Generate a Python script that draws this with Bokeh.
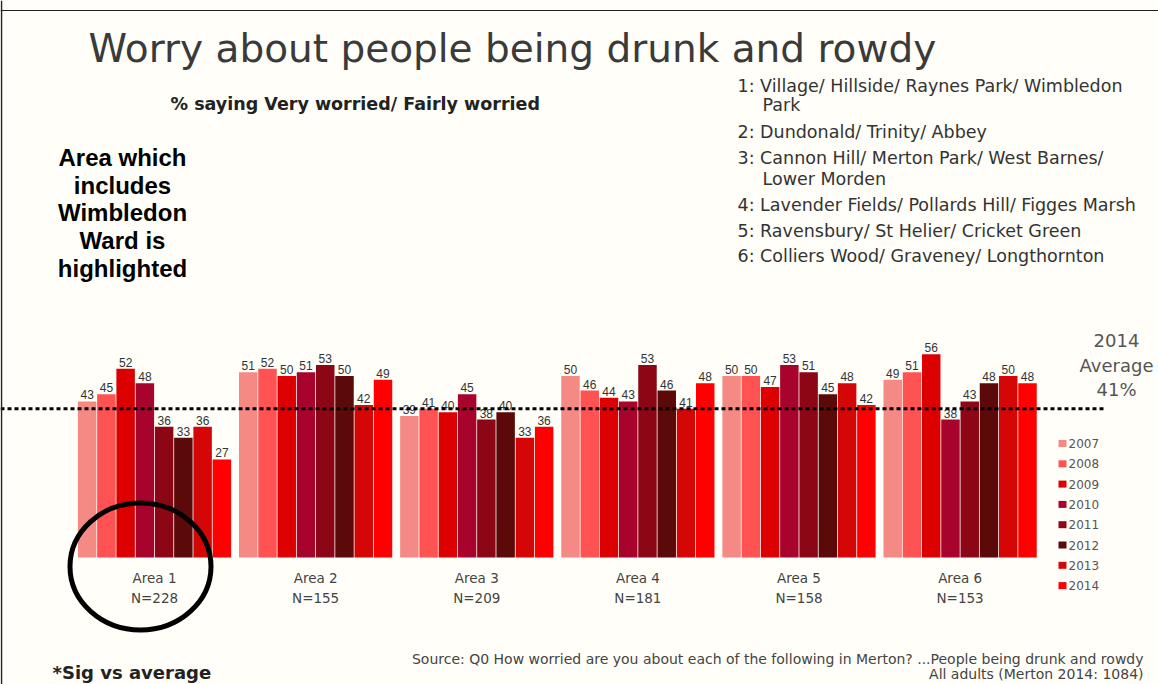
from bokeh.plotting import figure
from bokeh.models import Range1d, Span, ColumnDataSource
from bokeh.core.properties import value
from bokeh.embed import file_html
from bokeh.resources import INLINE

# ---------------- data ----------------
areas = ["Area 1", "Area 2", "Area 3", "Area 4", "Area 5", "Area 6"]
sample_sizes = [228, 155, 209, 181, 158, 153]
years = ["2007", "2008", "2009", "2010", "2011", "2012", "2013", "2014"]
area1 = [43, 45, 52, 48, 36, 33, 36, 27]
area2 = [51, 52, 50, 51, 53, 50, 42, 49]
area3 = [39, 41, 40, 45, 38, 40, 33, 36]
area4 = [50, 46, 44, 43, 53, 46, 41, 48]
area5 = [50, 50, 47, 53, 51, 45, 48, 42]
area6 = [49, 51, 56, 38, 43, 48, 50, 48]
area_values = [area1, area2, area3, area4, area5, area6]
average_2014 = 41
year_colors = ["#f58a84", "#ff5252", "#dc0000", "#a8032c", "#8c0616",
               "#5c0909", "#d40606", "#ff0000"]
area_descriptions = [
    ("1: Village/ Hillside/ Raynes Park/ Wimbledon", 0),
    ("Park", 1),
    ("2: Dundonald/ Trinity/ Abbey", 0),
    ("3: Cannon Hill/ Merton Park/ West Barnes/", 0),
    ("Lower Morden", 1),
    ("4: Lavender Fields/ Pollards Hill/ Figges Marsh", 0),
    ("5: Ravensbury/ St Helier/ Cricket Green", 0),
    ("6: Colliers Wood/ Graveney/ Longthornton", 0),
]
highlight_note = ["Area which", "includes", "Wimbledon", "Ward is", "highlighted"]

# ---------------- layout ----------------
W, H = 1158, 684
BAR_PX = 19.25          # pixels per bar (x data unit)
GROUP_GAP = 0.37        # gap between area groups, in bar widths
Y_PX = 3.63             # pixels per percentage point
ORIGIN_X = 77           # page x of first bar's left edge
BASE_Y = 557            # page y of the bars' baseline
x0 = -ORIGIN_X / BAR_PX
x1 = x0 + W / BAR_PX
y1 = BASE_Y / Y_PX
y0 = y1 - H / Y_PX


def px(x):
    return x0 + x / BAR_PX


def py(y):
    return (BASE_Y - y) / Y_PX


BG = "#fffef8"
p = figure(width=W, height=H, output_backend="svg", toolbar_location=None,
           x_range=Range1d(x0, x1), y_range=Range1d(y0, y1),
           min_border=0, background_fill_color=BG, border_fill_color=BG)
p.axis.visible = False
p.grid.visible = False
p.outline_line_color = None

# slide edges (left & top)
p.add_layout(Span(location=px(1), dimension="height", line_color="#222222", line_width=1.5))
p.add_layout(Span(location=py(10), dimension="width", line_color="#222222", line_width=1.2))

# ---------------- bars ----------------
stride = len(years) + GROUP_GAP
bx, btop, bcol, blab = [], [], [], []
for gi, vals in enumerate(area_values):
    for yi, v in enumerate(vals):
        bx.append(gi * stride + yi + 0.5)
        btop.append(v)
        bcol.append(year_colors[yi])
        blab.append(str(v))
bars = ColumnDataSource(dict(x=bx, top=btop, color=bcol, label=blab))
p.vbar(x="x", top="top", bottom=0, width=0.96, fill_color="color",
       line_color=None, source=bars)
p.text(x="x", y="top", text="label", source=bars, text_align="center",
       text_baseline="bottom", y_offset=-2, text_font=value("Liberation Sans"),
       text_font_size="12px", text_color="#333333")

# average line
p.line(x=[x0, px(1105)], y=[average_2014, average_2014], line_color="black",
       line_width=3, line_dash="4 3")
avg_lines = ["2014", "Average", f"{average_2014}%"]
p.text(x=[px(1116)] * 3, y=[py(340), py(365), py(389)], text=avg_lines,
       text_align="center", text_baseline="middle",
       text_font=value("DejaVu Sans"), text_font_size="18px",
       text_color="#555555")

# area labels
cx = [gi * stride + len(years) / 2 for gi in range(len(areas))]
p.text(x=cx, y=[py(577)] * len(areas), text=areas, text_align="center",
       text_baseline="middle", text_font=value("DejaVu Sans"),
       text_font_size="13.5px", text_color="#444444")
p.text(x=cx, y=[py(597)] * len(areas), text=[f"N={n}" for n in sample_sizes],
       text_align="center", text_baseline="middle",
       text_font=value("DejaVu Sans"), text_font_size="13.5px",
       text_color="#444444")

# legend
leg_y = [py(443 + i * 20.3) for i in range(len(years))]
p.rect(x=[px(1062)] * len(years), y=leg_y, width=8, height=7,
       width_units="screen", height_units="screen", fill_color=year_colors,
       line_color=None)
p.text(x=[px(1068)] * len(years), y=leg_y, text=years, text_align="left",
       text_baseline="middle", text_font=value("DejaVu Sans"),
       text_font_size="12px", text_color="#555555")

# highlight circle around Area 1
p.ellipse(x=px(140), y=py(566), width=141 / BAR_PX, height=127 / Y_PX,
          fill_color=None, line_color="black", line_width=5)

# titles
p.text(x=[px(88)], y=[py(48)], text=["Worry about people being drunk and rowdy"],
       text_align="left", text_baseline="middle",
       text_font=value("DejaVu Sans"), text_font_size="39px",
       text_color="#3a3a3a")
p.text(x=[px(170)], y=[py(103)], text=["% saying Very worried/ Fairly worried"],
       text_align="left", text_baseline="middle",
       text_font=value("DejaVu Sans"), text_font_size="17.5px",
       text_font_style="bold", text_color="#222222")
p.text(x=[px(122)] * len(highlight_note),
       y=[py(157 + i * 27.7) for i in range(len(highlight_note))],
       text=highlight_note, text_align="center", text_baseline="middle",
       text_font=value("Liberation Sans"), text_font_size="24px",
       text_font_style="bold", text_color="black")

# area descriptions
dy = [85, 104, 131, 157, 178, 204, 230, 255]
p.text(x=[px(737 + 25 * ind) for _, ind in area_descriptions], y=[py(v) for v in dy],
       text=[t for t, _ in area_descriptions], text_align="left",
       text_baseline="middle", text_font=value("DejaVu Sans"),
       text_font_size="17.5px", text_color="#333333")

# footer
p.text(x=[px(52)], y=[py(672)], text=["*Sig vs average"], text_align="left",
       text_baseline="middle", text_font=value("DejaVu Sans"),
       text_font_size="18px", text_font_style="bold", text_color="#222222")
p.text(x=[px(1143)] * 2, y=[py(658), py(673)],
       text=["Source: Q0 How worried are you about each of the following in Merton? ...People being drunk and rowdy",
             "All adults (Merton 2014: 1084)"],
       text_align="right", text_baseline="middle",
       text_font=value("DejaVu Sans"), text_font_size="14px",
       text_color="#444444")

open("out.html", "w").write(file_html(p, INLINE))
